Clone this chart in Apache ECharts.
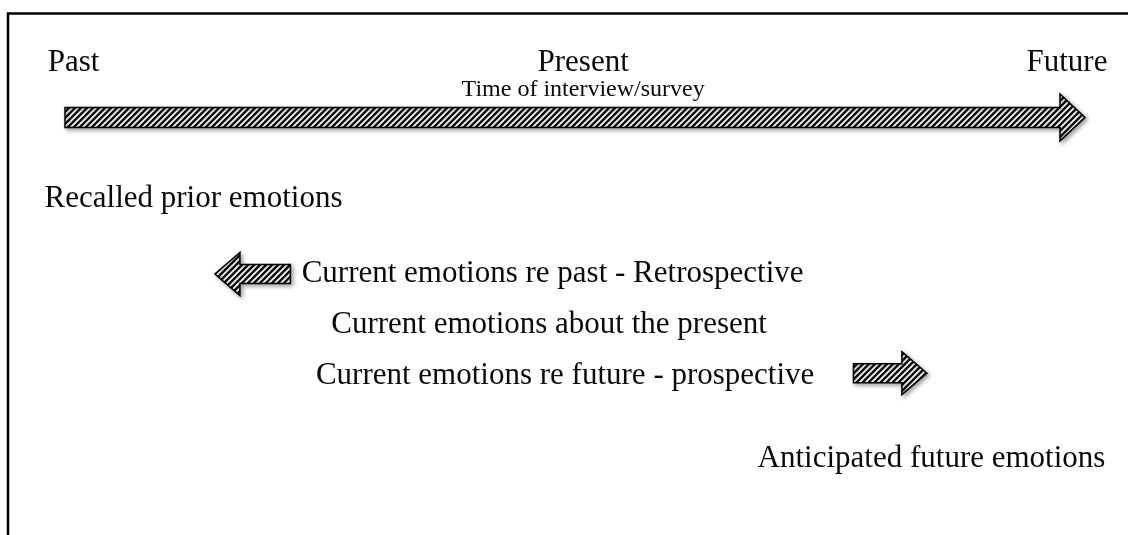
<!DOCTYPE html>
<html>
<head>
<meta charset="utf-8">
<title>Emotions over time</title>
<script src="https://cdn.jsdelivr.net/npm/echarts@6/dist/echarts.min.js"></script>
<style>
html, body { margin: 0; padding: 0; background: #fff; }
#main { width: 1128px; height: 535px; }
</style>
</head>
<body>
<div id="main"></div>
<script>
// time runs 0 (past) .. 100 (future), rows run 0 (top) .. 10 (bottom)
var timeLabels = ['Past', 'Present', 'Future'];
var timeLabelAt = [-1.7, 50.8, 102.2];
var timeLabelRow = [0.95, 0.95, 0.95];
var presentNote = 'Time of interview/survey';
var presentNoteAt = 50.8;
var presentNoteRow = 1.47;

var emotionLabels = [
    'Recalled prior emotions',
    'Current emotions re past - Retrospective',
    'Current emotions about the present',
    'Current emotions re future - prospective',
    'Anticipated future emotions'
];
var emotionAt = [-2, 23.2, 26.1, 24.6, 102];
var emotionRow = [3.57, 5.0, 5.97, 6.95, 8.55];

// arrows: timeline, retrospective, prospective
var arrowFrom = [0, 22.1, 77.3];
var arrowTo = [100, 14.7, 84.5];
var arrowRow = [2, 5, 6.9];

function makeHatch() {
    var s = 6;
    var c = document.createElement('canvas');
    c.width = s; c.height = s;
    var ctx = c.getContext('2d');
    ctx.fillStyle = '#111';
    ctx.fillRect(0, 0, s, s);
    ctx.strokeStyle = '#fff';
    ctx.lineWidth = 1.7;
    ctx.beginPath();
    ctx.moveTo(-1, s + 1); ctx.lineTo(s + 1, -1);
    ctx.moveTo(-1, 1); ctx.lineTo(1, -1);
    ctx.moveTo(s - 1, s + 1); ctx.lineTo(s + 1, s - 1);
    ctx.stroke();
    return c;
}
var hatch = { image: makeHatch(), repeat: 'repeat' };

var myChart = echarts.init(document.getElementById('main'));

function renderArrow(params, api) {
    var a = api.coord([api.value(0), api.value(2)]);
    var b = api.coord([api.value(1), api.value(2)]);
    var big = params.dataIndex === 0;
    var sh = big ? 10 : 9.5;   // half shaft
    var hh = big ? 23.5 : 21.5;  // half head
    var hl = 25;               // head length
    var dir = b[0] > a[0] ? 1 : -1;
    var y = a[1];
    var neck = b[0] - dir * hl;
    return {
        type: 'polygon',
        shape: {
            points: [
                [a[0], y - sh], [neck, y - sh], [neck, y - hh], [b[0], y],
                [neck, y + hh], [neck, y + sh], [a[0], y + sh]
            ]
        },
        style: {
            fill: hatch,
            stroke: '#000',
            lineWidth: 1.5,
            shadowBlur: 4,
            shadowOffsetX: 2,
            shadowOffsetY: 2,
            shadowColor: 'rgba(0,0,0,0.35)'
        }
    };
}

var textItems = [];
timeLabels.forEach(function (t, i) {
    textItems.push({ value: [timeLabelAt[i], timeLabelRow[i]], text: t, size: 31,
        align: i === 0 ? 'left' : (i === 1 ? 'center' : 'right') });
});
textItems.push({ value: [presentNoteAt, presentNoteRow], text: presentNote, size: 24, align: 'center' });
emotionLabels.forEach(function (t, i) {
    textItems.push({ value: [emotionAt[i], emotionRow[i]], text: t, size: 31,
        align: i === 4 ? 'right' : 'left' });
});

function renderText(params, api) {
    var item = textItems[params.dataIndex];
    var p = api.coord([api.value(0), api.value(1)]);
    return {
        type: 'text',
        x: p[0],
        y: p[1],
        style: {
            text: item.text,
            fill: '#0a0a0a',
            font: item.size + 'px "Liberation Serif", "Times New Roman", serif',
            align: item.align,
            verticalAlign: 'middle'
        }
    };
}

var option = {
    animation: false,
    backgroundColor: '#fff',
    grid: { left: 65, right: 43, top: 13, bottom: 0 },
    xAxis: { type: 'value', min: 0, max: 100, show: false },
    yAxis: { type: 'value', min: 0, max: 10, inverse: true, show: false },
    graphic: [{
        type: 'polyline',
        shape: { points: [[8, 535], [8, 13.5], [1128, 13.5]] },
        style: { stroke: '#000', lineWidth: 2.5, fill: null }
    }],
    series: [
        {
            type: 'custom',
            clip: false,
            renderItem: renderArrow,
            data: arrowFrom.map(function (f, i) { return [f, arrowTo[i], arrowRow[i]]; })
        },
        {
            type: 'custom',
            clip: false,
            renderItem: renderText,
            data: textItems.map(function (d) { return d.value; })
        }
    ]
};
myChart.setOption(option);
</script>
</body>
</html>
